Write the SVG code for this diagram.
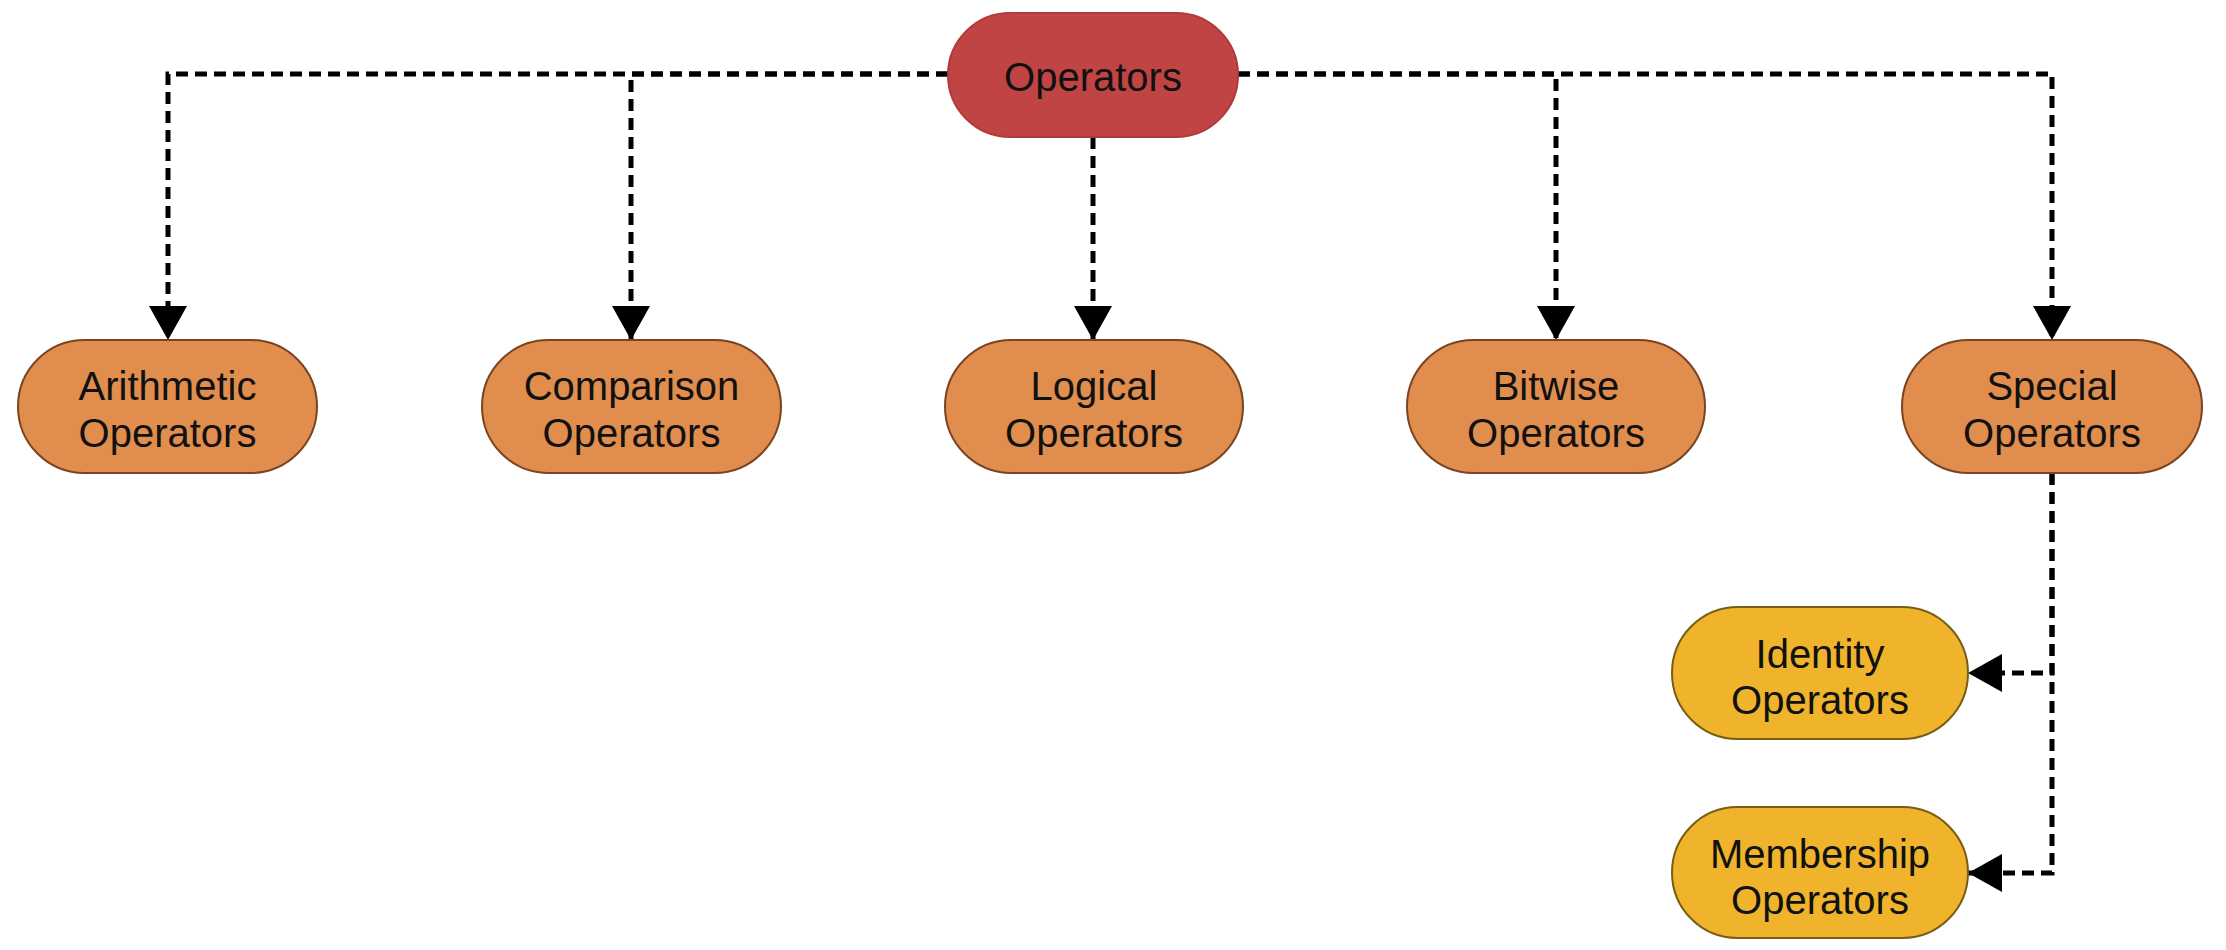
<svg xmlns="http://www.w3.org/2000/svg" width="2226" height="950" viewBox="0 0 2226 950">
<style>
.n path{stroke-width:2}
.root path{fill:#c04444;stroke:#b03a3a}
.mid path{fill:#e08d4e;stroke:#7a4420}
.leaf path{fill:#efb42b;stroke:#7a5d14}
text{font-family:"Liberation Sans",Arial,sans-serif;font-size:40px;fill:#111;text-anchor:middle}
.c path{fill:none;stroke:#000;stroke-width:5;stroke-dasharray:12 7;marker-end:url(#ah)}
</style>
<defs>
<marker id="ah" markerUnits="userSpaceOnUse" markerWidth="36" markerHeight="38" refX="34" refY="19" orient="auto">
<path d="M0,0 L34,19 L0,38 Z" fill="#000"/>
</marker>
</defs>
<g class="c" id="connectors">
<path d="M948,74 H168 V340"/>
<path d="M948,74 H631 V340"/>
<path d="M1093,137 V340"/>
<path d="M1238,74 H1556 V340"/>
<path d="M1238,74 H2052 V340"/>
<path d="M2052,473 V673 H1968"/>
<path d="M2052,473 V873 H1968"/>
</g>
<g id="operators" class="n root"><path d="M1010,13 H1176 A62,62 0 0 1 1176,137 H1010 A62,62 0 0 1 1010,13 Z"/><text x="1093" y="91">Operators</text></g>
<g id="arithmetic" class="n mid"><path d="M84.5,340 H250.5 A66.5,66.5 0 0 1 250.5,473 H84.5 A66.5,66.5 0 0 1 84.5,340 Z"/><text x="167.5" y="400">Arithmetic</text><text x="167.5" y="447">Operators</text></g>
<g id="comparison" class="n mid"><path d="M548.5,340 H714.5 A66.5,66.5 0 0 1 714.5,473 H548.5 A66.5,66.5 0 0 1 548.5,340 Z"/><text x="631.5" y="400">Comparison</text><text x="631.5" y="447">Operators</text></g>
<g id="logical" class="n mid"><path d="M1011.5,340 H1176.5 A66.5,66.5 0 0 1 1176.5,473 H1011.5 A66.5,66.5 0 0 1 1011.5,340 Z"/><text x="1094" y="400">Logical</text><text x="1094" y="447">Operators</text></g>
<g id="bitwise" class="n mid"><path d="M1473.5,340 H1638.5 A66.5,66.5 0 0 1 1638.5,473 H1473.5 A66.5,66.5 0 0 1 1473.5,340 Z"/><text x="1556" y="400">Bitwise</text><text x="1556" y="447">Operators</text></g>
<g id="special" class="n mid"><path d="M1968.5,340 H2135.5 A66.5,66.5 0 0 1 2135.5,473 H1968.5 A66.5,66.5 0 0 1 1968.5,340 Z"/><text x="2052" y="400">Special</text><text x="2052" y="447">Operators</text></g>
<g id="identity" class="n leaf"><path d="M1738,607 H1902 A66,66 0 0 1 1902,739 H1738 A66,66 0 0 1 1738,607 Z"/><text x="1820" y="668">Identity</text><text x="1820" y="714">Operators</text></g>
<g id="membership" class="n leaf"><path d="M1737.5,807 H1902.5 A65.5,65.5 0 0 1 1902.5,938 H1737.5 A65.5,65.5 0 0 1 1737.5,807 Z"/><text x="1820" y="868">Membership</text><text x="1820" y="914">Operators</text></g>
</svg>
